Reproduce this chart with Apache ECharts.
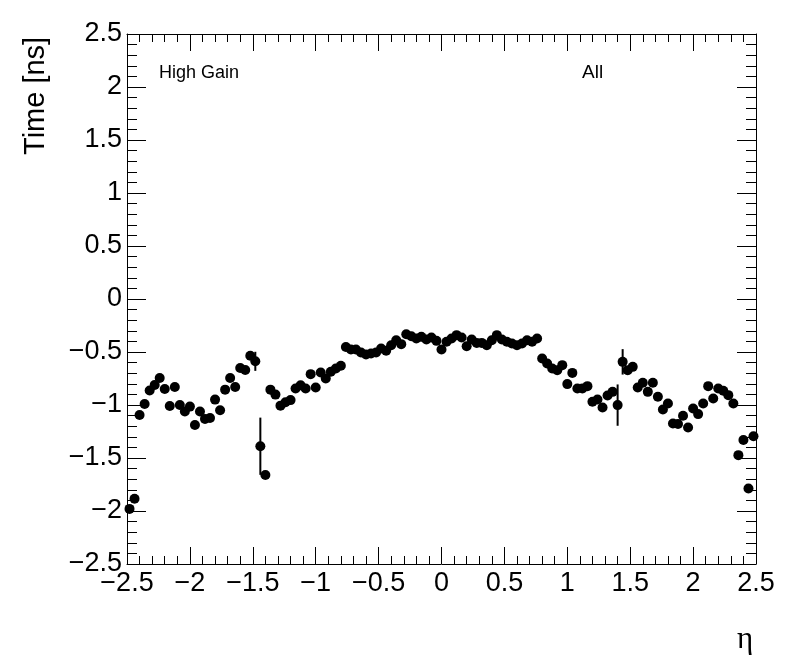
<!DOCTYPE html>
<html>
<head>
<meta charset="utf-8">
<script src="https://cdn.jsdelivr.net/npm/echarts@6/dist/echarts.min.js"></script>
<style>
  html, body { margin: 0; padding: 0; background: #fff; }
  #chart { width: 796px; height: 672px; }
</style>
</head>
<body>
<div id="chart"></div>
<script>
// bin centres in eta (125 bins of 0.04)
var etaBins = [
  -2.48, -2.44, -2.40, -2.36, -2.32, -2.28, -2.24, -2.20, -2.16, -2.12,
  -2.08, -2.04, -2.00, -1.96, -1.92, -1.88, -1.84, -1.80, -1.76, -1.72,
  -1.68, -1.64, -1.60, -1.56, -1.52, -1.48, -1.44, -1.40, -1.36, -1.32,
  -1.28, -1.24, -1.20, -1.16, -1.12, -1.08, -1.04, -1.00, -0.96, -0.92,
  -0.88, -0.84, -0.80, -0.76, -0.72, -0.68, -0.64, -0.60, -0.56, -0.52,
  -0.48, -0.44, -0.40, -0.36, -0.32, -0.28, -0.24, -0.20, -0.16, -0.12,
  -0.08, -0.04, 0.00, 0.04, 0.08, 0.12, 0.16, 0.20, 0.24, 0.28,
  0.32, 0.36, 0.40, 0.44, 0.48, 0.52, 0.56, 0.60, 0.64, 0.68,
  0.72, 0.76, 0.80, 0.84, 0.88, 0.92, 0.96, 1.00, 1.04, 1.08,
  1.12, 1.16, 1.20, 1.24, 1.28, 1.32, 1.36, 1.40, 1.44, 1.48,
  1.52, 1.56, 1.60, 1.64, 1.68, 1.72, 1.76, 1.80, 1.84, 1.88,
  1.92, 1.96, 2.00, 2.04, 2.08, 2.12, 2.16, 2.20, 2.24, 2.28,
  2.32, 2.36, 2.40, 2.44, 2.48
];
// mean time per bin [ns]
var timeVals = [
  -1.98, -1.885, -1.094, -0.99, -0.864, -0.811, -0.745, -0.849, -1.009, -0.83,
  -1.0, -1.062, -1.015, -1.188, -1.062, -1.131, -1.122, -0.949, -1.05, -0.855,
  -0.745, -0.83, -0.651, -0.67, -0.535, -0.588, -1.389, -1.66, -0.855, -0.902,
  -1.006, -0.974, -0.954, -0.844, -0.813, -0.844, -0.709, -0.835, -0.693, -0.75,
  -0.687, -0.656, -0.63, -0.452, -0.477, -0.477, -0.505, -0.524, -0.514, -0.505,
  -0.467, -0.489, -0.436, -0.389, -0.426, -0.332, -0.351, -0.373, -0.357, -0.382,
  -0.364, -0.395, -0.477, -0.404, -0.373, -0.341, -0.363, -0.445, -0.382, -0.414,
  -0.414, -0.436, -0.389, -0.341, -0.382, -0.404, -0.42, -0.436, -0.42, -0.389,
  -0.404, -0.373, -0.561, -0.609, -0.656, -0.671, -0.624, -0.803, -0.697, -0.844,
  -0.844, -0.822, -0.97, -0.948, -1.023, -0.91, -0.876, -1.001, -0.593, -0.671,
  -0.64, -0.835, -0.79, -0.876, -0.79, -0.923, -1.042, -0.986, -1.174, -1.18,
  -1.102, -1.212, -1.033, -1.086, -0.986, -0.822, -0.939, -0.844, -0.866, -0.907,
  -0.986, -1.473, -1.331, -1.787, -1.294
];
// errors: only a few are larger than the marker
var timeErrs = [];
for (var k = 0; k < timeVals.length; k++) timeErrs.push(0.02);
timeErrs[25] = 0.09;
timeErrs[26] = 0.27;
timeErrs[97] = 0.195;
timeErrs[98] = 0.12;

var axisTicks = [-2.5, -2, -1.5, -1, -0.5, 0, 0.5, 1, 1.5, 2, 2.5];

var myChart = echarts.init(document.getElementById('chart'));

var points = etaBins.map(function (e, i) { return [e, timeVals[i]]; });
var errs = etaBins.map(function (e, i) { return [e, timeVals[i], timeErrs[i]]; });

function fmt(v) {
  return (v < 0 ? '\u2212' : '') + Math.abs(v);
}

var font = 'Liberation Sans';
function makeAxis(pos, showLabel, tickLen, minorLen) {
  return {
    type: 'value',
    position: pos,
    min: axisTicks[0],
    max: axisTicks[axisTicks.length - 1],
    interval: 0.5,
    axisLine: { show: true, onZero: false, lineStyle: { color: '#000', width: 1 } },
    axisTick: { show: true, inside: true, length: tickLen, lineStyle: { color: '#000', width: 1 } },
    minorTick: { show: true, splitNumber: 5, length: minorLen, lineStyle: { color: '#000', width: 1 } },
    splitLine: { show: false },
    axisLabel: {
      show: showLabel,
      color: '#000',
      fontFamily: font,
      fontSize: 27,
      margin: pos === 'bottom' ? 6 : 5,
      formatter: fmt
    }
  };
}

var option = {
  animation: false,
  backgroundColor: '#fff',
  grid: { left: 127, right: 40, top: 34, bottom: 108 },
  xAxis: [
    makeAxis('bottom', true, 17, 8),
    makeAxis('top', false, 17, 8)
  ],
  yAxis: [
    makeAxis('left', true, 19, 10),
    makeAxis('right', false, 19, 10)
  ],
  graphic: [
    { type: 'text', x: 21, y: 155, rotation: Math.PI / 2,
      style: { text: 'Time [ns]', fill: '#000', font: '29px "Liberation Sans"' } },
    { type: 'text', x: 737, y: 624,
      style: { text: '\u03b7', fill: '#000', font: '31px "Liberation Serif"' } },
    { type: 'text', x: 159, y: 64,
      style: { text: 'High Gain', fill: '#000', font: '18px "Liberation Sans"' } },
    { type: 'text', x: 582, y: 63,
      style: { text: 'All', fill: '#000', font: '19px "Liberation Sans"' } }
  ],
  series: [
    {
      type: 'custom',
      xAxisIndex: 0,
      yAxisIndex: 0,
      data: errs,
      renderItem: function (params, api) {
        var x = api.value(0), y = api.value(1), e = api.value(2);
        var p1 = api.coord([x, y + e]);
        var p2 = api.coord([x, y - e]);
        return {
          type: 'line',
          shape: { x1: p1[0], y1: p1[1], x2: p2[0], y2: p2[1] },
          style: { stroke: '#000', lineWidth: 2 }
        };
      },
      z: 2
    },
    {
      type: 'scatter',
      xAxisIndex: 0,
      yAxisIndex: 0,
      data: points,
      symbol: 'circle',
      symbolSize: 10,
      itemStyle: { color: '#000', opacity: 1 },
      z: 3
    }
  ]
};

myChart.setOption(option);
</script>
</body>
</html>
